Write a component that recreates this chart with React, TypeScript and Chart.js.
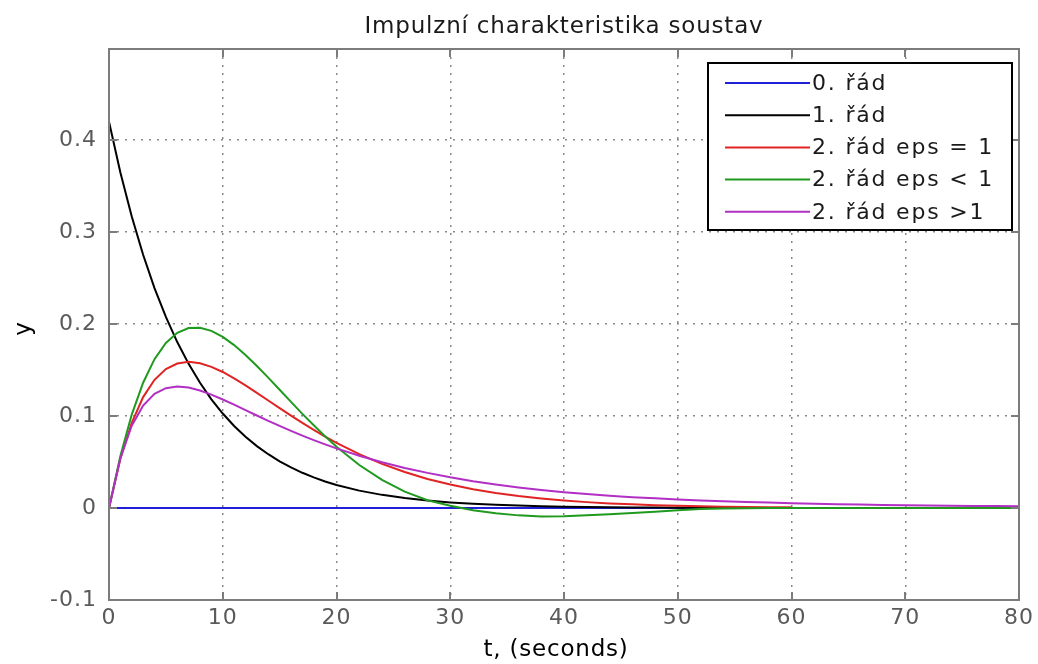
import React, { useEffect, useRef } from 'react';
import { Chart, registerables } from 'chart.js';

Chart.register(...registerables);

// ---- data ----
const TITLE = 'Impulzní charakteristika soustav';
const X_LABEL = 't, (seconds)';
const Y_LABEL = 'y';

const TIME = [
  0, 1, 2, 3, 4, 5, 6, 7, 8, 9, 10, 11, 12, 13, 14, 15, 16, 17, 18, 19, 20,
  22, 24, 26, 28, 30, 32, 34, 36, 38, 40, 42, 44, 46, 48, 50, 52, 54, 56, 58,
  60, 62, 64, 66, 68, 70, 72, 74, 76, 78, 80,
];

const SERIES_LABELS = ['0. řád', '1. řád', '2. řád eps = 1', '2. řád eps < 1', '2. řád eps >1'];
const SERIES_COLORS = ['#2020d8', '#000000', '#e02424', '#1f9a1f', '#b22fc4'];

const ORDER0 = [
  0, 0, 0, 0, 0, 0, 0, 0, 0, 0, 0, 0, 0, 0, 0, 0, 0, 0, 0, 0, 0,
  0, 0, 0, 0, 0, 0, 0, 0, 0, 0, 0, 0, 0, 0, 0, 0, 0, 0, 0,
  0, 0, 0, 0, 0, 0, 0, 0, 0, 0, 0,
];

const ORDER1 = [
  0.420, 0.3648, 0.3169, 0.2753, 0.2391, 0.2077, 0.1804, 0.1567, 0.1361, 0.1182, 0.1027,
  0.0892, 0.0775, 0.0673, 0.0585, 0.0508, 0.0441, 0.0383, 0.0333, 0.0289, 0.0251,
  0.0189, 0.0143, 0.0108, 0.0081, 0.0061, 0.0046, 0.0035, 0.0026, 0.0020, 0.0015,
  0.0011, 0.0009, 0.0006, 0.0005, 0.0004, 0.0003, 0.0002, 0.0002, null,
  null, null, null, null, null, null, null, null, null, null, null,
];

const ORDER2_CRIT = [
  0, 0.0535, 0.0927, 0.1206, 0.1394, 0.1510, 0.1571, 0.1589, 0.1574, 0.1535, 0.1479,
  0.1410, 0.1333, 0.1252, 0.1169, 0.1086, 0.1004, 0.0925, 0.0849, 0.0777, 0.0708,
  0.0586, 0.0480, 0.0391, 0.0316, 0.0255, 0.0203, 0.0163, 0.0130, 0.0103, 0.0081,
  0.0064, 0.0050, 0.0040, 0.0031, 0.0024, 0.0019, 0.0015, 0.0012, 0.0009,
  0.0007, null, null, null, null, null, null, null, null, null, null,
];

const ORDER2_UNDER = [
  0, 0.0566, 0.1016, 0.1362, 0.1618, 0.1795, 0.1904, 0.1956, 0.1960, 0.1926, 0.1861,
  0.1771, 0.1664, 0.1544, 0.1417, 0.1286, 0.1154, 0.1024, 0.0899, 0.0779, 0.0666,
  0.0468, 0.0306, 0.0178, 0.0085, 0.0025, -0.0025, -0.0058, -0.0080, -0.0091, -0.0089,
  -0.0080, -0.0068, -0.0055, -0.0040, -0.0025, -0.0012, -0.0005, -0.0002, 0,
  0, 0, 0, 0, 0, 0, 0, 0, 0, 0, 0,
];

const ORDER2_OVER = [
  0, 0.0541, 0.0894, 0.1113, 0.1241, 0.1303, 0.1321, 0.1309, 0.1277, 0.1233, 0.1180,
  0.1123, 0.1065, 0.1006, 0.0948, 0.0892, 0.0838, 0.0787, 0.0738, 0.0692, 0.0648,
  0.0568, 0.0498, 0.0436, 0.0382, 0.0334, 0.0292, 0.0256, 0.0224, 0.0196, 0.0172,
  0.0152, 0.0134, 0.0118, 0.0105, 0.0093, 0.0083, 0.0074, 0.0066, 0.0059,
  0.0053, 0.0047, 0.0042, 0.0038, 0.0034, 0.0031, 0.0028, 0.0025, 0.0023, 0.0021, 0.0019,
];

const SERIES = [ORDER0, ORDER1, ORDER2_CRIT, ORDER2_UNDER, ORDER2_OVER];

const X_MIN = 0;
const X_MAX = 80;
const X_STEP = 10;
const Y_MIN = -0.1;
const Y_MAX = 0.499;
const Y_STEP = 0.1;

const FONT = '"DejaVu Sans", Verdana, sans-serif';

function toPoints(values: (number | null)[]) {
  const pts: { x: number; y: number }[] = [];
  values.forEach((v, i) => {
    if (v !== null && v !== undefined) pts.push({ x: TIME[i], y: v });
  });
  return pts;
}

const matlabFrame = {
  id: 'matlabFrame',
  beforeDraw(chart: any) {
    const { ctx, width, height } = chart;
    ctx.save();
    ctx.fillStyle = '#ffffff';
    ctx.fillRect(0, 0, width, height);
    ctx.restore();
    ctx.letterSpacing = '1px';
  },
  afterDatasetsDraw(chart: any) {
    const { ctx, chartArea: a, scales } = chart;
    const xs = scales.x;
    const ys = scales.y;
    ctx.save();
    ctx.letterSpacing = '0px';
    // axes box
    ctx.strokeStyle = '#7c7c7c';
    ctx.lineWidth = 2;
    ctx.strokeRect(a.left, a.top, a.right - a.left, a.bottom - a.top);
    // inward tick marks
    ctx.beginPath();
    xs.ticks.forEach((t: any) => {
      const px = Math.round(xs.getPixelForValue(t.value));
      ctx.moveTo(px, a.bottom);
      ctx.lineTo(px, a.bottom - 8);
      ctx.moveTo(px, a.top);
      ctx.lineTo(px, a.top + 8);
    });
    ys.ticks.forEach((t: any) => {
      const py = Math.round(ys.getPixelForValue(t.value));
      ctx.moveTo(a.left, py);
      ctx.lineTo(a.left + 8, py);
      ctx.moveTo(a.right, py);
      ctx.lineTo(a.right - 8, py);
    });
    ctx.stroke();

    // title and axis labels
    ctx.letterSpacing = '0.8px';
    ctx.fillStyle = '#1a1a1a';
    ctx.font = `23px ${FONT}`;
    ctx.textAlign = 'center';
    ctx.textBaseline = 'middle';
    ctx.fillText(TITLE, (a.left + a.right) / 2, 27);
    ctx.fillStyle = '#000000';
    ctx.fillText(X_LABEL, (a.left + a.right) / 2 - 8, 650);
    ctx.save();
    ctx.translate(24, (a.top + a.bottom) / 2 + 4);
    ctx.rotate(-Math.PI / 2);
    ctx.fillText(Y_LABEL, 0, 0);
    ctx.restore();

    // legend box
    const lx = 708, ly = 63, lw = 304, lh = 167;
    ctx.fillStyle = '#ffffff';
    ctx.fillRect(lx, ly, lw, lh);
    ctx.strokeStyle = '#000000';
    ctx.lineWidth = 2;
    ctx.strokeRect(lx, ly, lw, lh);
    ctx.textAlign = 'left';
    ctx.font = `22px ${FONT}`;
    ctx.letterSpacing = '1.8px';
    chart.data.datasets.forEach((ds: any, i: number) => {
      const ry = 83 + i * 32.2;
      ctx.strokeStyle = ds.borderColor;
      ctx.lineWidth = 2;
      ctx.beginPath();
      ctx.moveTo(725, ry);
      ctx.lineTo(810, ry);
      ctx.stroke();
      ctx.fillStyle = '#1a1a1a';
      ctx.fillText(ds.label, 812, ry + 1);
    });
    ctx.restore();
  },
};

export default function App() {
  const canvasRef = useRef<HTMLCanvasElement | null>(null);

  useEffect(() => {
    const canvas = canvasRef.current;
    if (!canvas) return;
    const datasets = SERIES.map((vals, i) => ({
      label: SERIES_LABELS[i],
      data: toPoints(vals),
      borderColor: SERIES_COLORS[i],
      backgroundColor: SERIES_COLORS[i],
      borderWidth: 2,
      pointRadius: 0,
      tension: 0,
      fill: false,
      order: SERIES.length - i,
    }));

    const chart = new Chart(canvas, {
      type: 'line',
      data: { datasets },
      options: {
        animation: false,
        responsive: false,
        devicePixelRatio: 1,
        layout: { padding: { left: 0, right: 16, top: 49, bottom: 0 } },
        plugins: {
          legend: { display: false },
          title: { display: false },
          tooltip: { enabled: false },
        },
        scales: {
          x: {
            type: 'linear',
            min: X_MIN,
            max: X_MAX,
            ticks: {
              stepSize: X_STEP,
              padding: 5,
              color: '#5a5a5a',
              font: { family: FONT, size: 22 },
              maxRotation: 0,
            },
            grid: {
              color: '#8a8a8a',
              lineWidth: 1.5,
              drawTicks: false,
            },
            border: { display: false, dash: [2, 6] },
            afterFit: (scale: any) => {
              scale.height = 64;
            },
          },
          y: {
            type: 'linear',
            min: Y_MIN,
            max: Y_MAX,
            ticks: {
              stepSize: Y_STEP,
              includeBounds: false,
              padding: 12,
              color: '#5a5a5a',
              font: { family: FONT, size: 22 },
              callback: (v: any) => {
                const n = Math.round(Number(v) * 10) / 10;
                return String(n);
              },
            },
            grid: {
              color: '#8a8a8a',
              lineWidth: 1.5,
              drawTicks: false,
            },
            border: { display: false, dash: [2, 6] },
            afterFit: (scale: any) => {
              scale.width = 109;
            },
          },
        },
      },
      plugins: [matlabFrame],
    } as any);

    return () => chart.destroy();
  }, []);

  return (
    <div style={{ position: 'fixed', left: 0, top: 0, width: 1038, height: 664, background: '#fff' }}>
      <canvas ref={canvasRef} width={1038} height={664} style={{ display: 'block' }} />
    </div>
  );
}
